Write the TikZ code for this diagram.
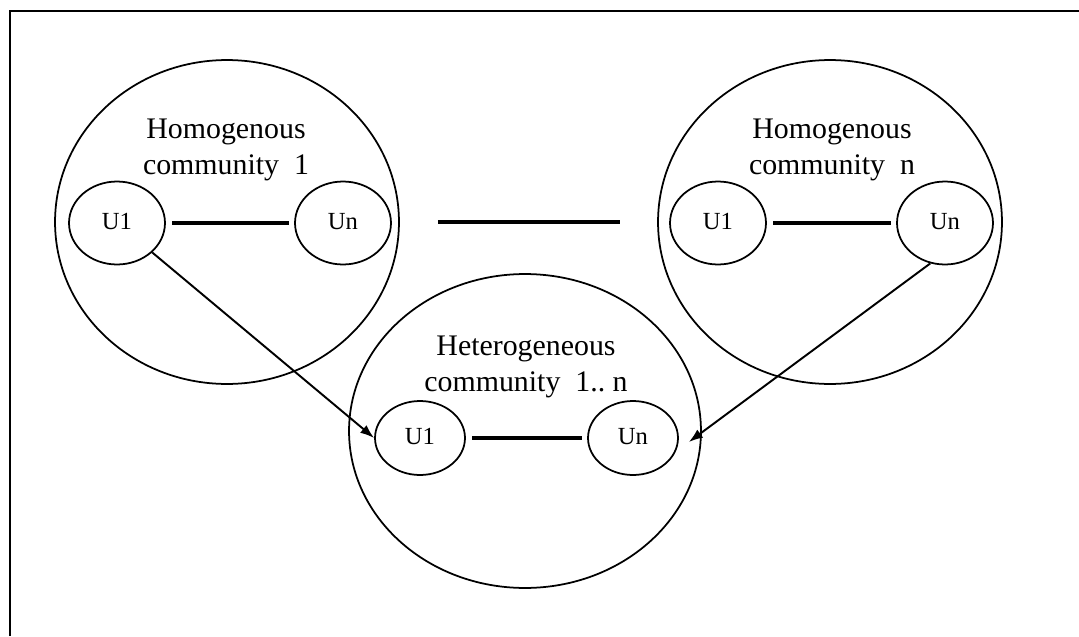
\documentclass[tikz,border=0pt]{standalone}
\usepackage{fontspec}
\setmainfont{Liberation Serif}
\usetikzlibrary{shapes.geometric,arrows.meta}

\tikzset{
    community/.style={ellipse, draw, line width=1pt, minimum width=6.88cm, minimum height=6.48cm},
    user/.style={ellipse, draw, line width=1pt, minimum width=1.92cm, minimum height=1.66cm,
        text height=1.6ex, text depth=0pt, font=\fontsize{14}{16}\selectfont},
    commtext/.style={align=center, font=\fontsize{17}{20.6}\selectfont},
    link/.style={line width=2.1pt},
    flow/.style={-{Latex[length=2.8mm,width=2mm]}, line width=1.1pt}
}

\begin{document}
\begin{tikzpicture}[x=0.02cm, y=-0.02cm]
    \useasboundingbox (0,0) rectangle (1079,636);
    \draw[line width=1.2pt] (10,636) -- (10,11) -- (1079,11);

    % homogenous communities
    \node[community] (lcomm) at (227,222) {};
    \node[commtext] (lctext) at (226,150) {Homogenous\\community~~1};
    \node[user] (lu1) at (117,223) {U1};
    \node[user] (lun) at (343,223) {Un};

    \node[community] (rcomm) at (830,222) {};
    \node[commtext] (rctext) at (832,150) {Homogenous\\community~~n};
    \node[user] (ru1) at (718,223) {U1};
    \node[user] (run) at (945,223) {Un};

    % heterogeneous community
    \node[community, minimum width=7.04cm, minimum height=6.28cm] (bcomm) at (525,431) {};
    \node[commtext] (bctext) at (526,367) {Heterogeneous\\community~~1..~n};
    \node[user, minimum width=1.8cm, minimum height=1.48cm] (bu1) at (420,438) {U1};
    \node[user, minimum width=1.8cm, minimum height=1.48cm] (bun) at (633,438) {Un};

    \draw[link, shorten <=0.13cm, shorten >=0.1cm] (lu1) -- (lun);
    \draw[link, shorten <=0.13cm, shorten >=0.1cm] (ru1) -- (run);
    \draw[link, shorten <=0.13cm, shorten >=0.1cm] (bu1) -- (bun);
    \draw[link, shorten <=0.76cm, shorten >=0.74cm] (lcomm) -- (rcomm);

    \coordinate (bunin) at ([xshift=0.2cm,yshift=-0.08cm]bun.east);
    \draw[flow] (lu1) -- (bu1.west);
    \draw[flow] (run.-110) -- (bunin);
\end{tikzpicture}
\end{document}
